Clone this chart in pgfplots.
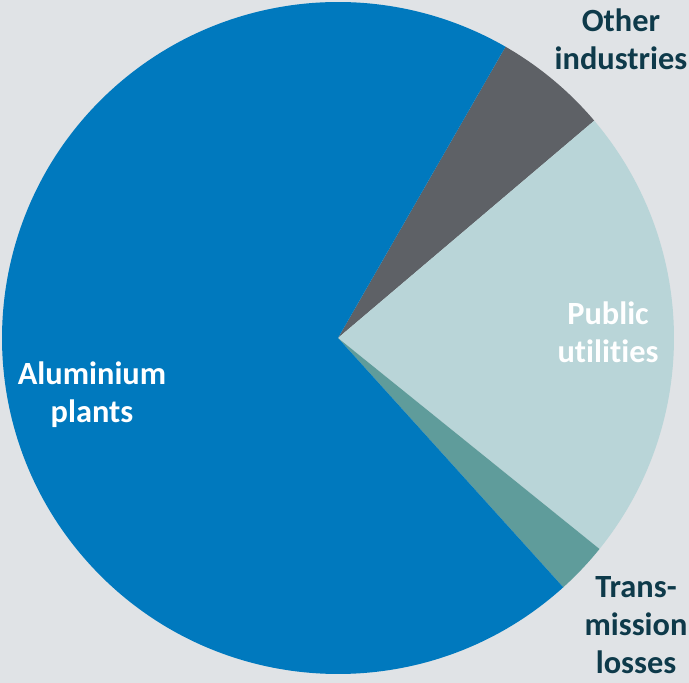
\documentclass[border=0pt]{standalone}
\usepackage{pgfplots}
\pgfplotsset{compat=1.18}
\usepackage{fontspec}
\setmainfont{Carlito}[Ligatures=CommonOff]
\definecolor{bgcol}{HTML}{E0E3E6}
\definecolor{alucol}{HTML}{0079BE}
\definecolor{othcol}{HTML}{5E6166}
\definecolor{pubcol}{HTML}{B9D5D8}
\definecolor{trncol}{HTML}{5F9C9B}
\definecolor{txtcol}{HTML}{0E3A4A}

% share of consumption, %, clockwise from the top boundary
\def\startangle{60.1}
\def\valOth{5.5}
\def\valPub{22}
\def\valTrn{2.5}
\def\valAlu{70}

\newcommand\slice[3]{% start angle, percent, colour
  \fill[#3] (axis cs:0,0) -- (axis cs:{336*cos(#1)},{336*sin(#1)})
    arc[start angle=#1, delta angle={-3.6*#2}, radius=336] -- cycle;}

\begin{document}
\begin{tikzpicture}
\begin{axis}[
  width=689bp, height=683bp, scale only axis,
  xmin=-338, xmax=351, ymin=-345, ymax=338,
  hide axis, clip=false,
]
\fill[bgcol] (axis cs:-338,-345) rectangle (axis cs:351,338);
\pgfmathsetmacro\aA{\startangle}
\pgfmathsetmacro\aB{\aA-3.6*\valOth}
\pgfmathsetmacro\aC{\aB-3.6*\valPub}
\pgfmathsetmacro\aD{\aC-3.6*\valTrn}
\slice{\aA}{\valOth}{othcol}
\slice{\aB}{\valPub}{pubcol}
\slice{\aC}{\valTrn}{trncol}
\slice{\aD}{\valAlu}{alucol}
\begin{scope}[font=\fontsize{32.5}{38}\selectfont\bfseries, align=center]
\node[text=txtcol] at (axis cs:283,299) {Other\\industries};
\node[text=white] at (axis cs:270,6) {Public\\utilities};
\node[text=txtcol] at (axis cs:298,-287) {Trans-\\mission\\losses};
\node[text=white] at (axis cs:-246,-57) {Aluminium\\plants};
\end{scope}
\end{axis}
\pgfresetboundingbox
\useasboundingbox (current axis.south west) rectangle (current axis.north east);
\end{tikzpicture}
\end{document}
